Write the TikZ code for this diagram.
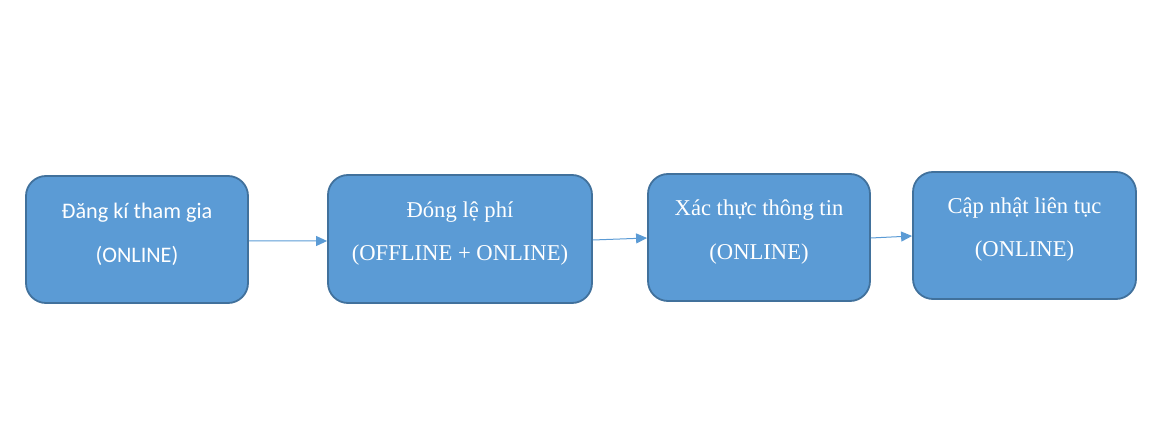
\documentclass[tikz,border=0pt]{standalone}
\usepackage{fontspec}
\setmainfont{Liberation Serif}
\newfontfamily\calfont{Carlito}
\usetikzlibrary{arrows.meta}
\definecolor{boxfill}{HTML}{5B9BD5}
\definecolor{boxline}{HTML}{41719C}
\begin{document}
\begin{tikzpicture}[x=1bp,y=-1bp,
  stepbox/.style={draw=boxline,fill=boxfill,line width=1.8bp,rounded corners=20bp,inner sep=0pt},
  lbl/.style={text=white,font=\fontsize{22.7}{26}\selectfont,inner sep=0pt,anchor=base},
  cal/.style={font=\calfont\fontsize{22.3}{26}\selectfont},
  conn/.style={draw=boxfill,line width=1bp,-{Triangle[length=11bp,width=10bp]}}]
\useasboundingbox (0,0) rectangle (1153,447);
\node[stepbox,minimum width=222bp,minimum height=127bp] (b1) at (137,239.5) {};
\node[stepbox,minimum width=264bp,minimum height=128bp] (b2) at (460,239) {};
\node[stepbox,minimum width=222bp,minimum height=127bp] (b3) at (759,237.5) {};
\node[stepbox,minimum width=223bp,minimum height=127bp] (b4) at (1024.5,235.5) {};
\node[lbl,cal] (t1a) at (137,218.5) {Đăng kí tham gia};
\node[lbl,cal] (t1b) at (137,262.5) {(ONLINE)};
\node[lbl] (t2a) at (460,217.5) {Đóng lệ phí};
\node[lbl] (t2b) at (460,260.5) {(OFFLINE + ONLINE)};
\node[lbl] (t3a) at (759,215.5) {Xác thực thông tin};
\node[lbl] (t3b) at (759,259.5) {(ONLINE)};
\node[lbl] (t4a) at (1024.5,213.5) {Cập nhật liên tục};
\node[lbl] (t4b) at (1024.5,256.5) {(ONLINE)};
\draw[conn] ([yshift=-1.5bp]b1.east) -- ([yshift=-2bp]b2.west);
\draw[conn] ([yshift=-1bp]b2.east) -- ([yshift=-0.5bp]b3.west);
\draw[conn] ([yshift=-0.5bp]b3.east) -- ([yshift=-0.5bp]b4.west);
\end{tikzpicture}
\end{document}
